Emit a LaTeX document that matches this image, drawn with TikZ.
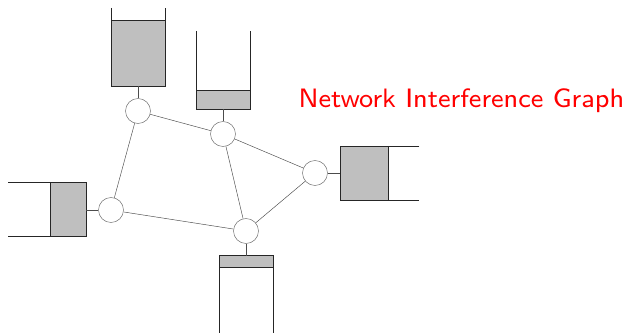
\documentclass[tikz,border=0pt]{standalone}
\usepackage{xcolor}

\tikzset{
    station/.style={circle, draw=black!60, fill=white, minimum size=0.75cm, inner sep=0pt},
    link/.style={draw=black!70},
    wall/.style={draw=black!85, line width=0.6pt},
    buffer/.style={fill=black!25}
}

\begin{document}
\begin{tikzpicture}
    \useasboundingbox (0,0) rectangle (19.02,9.99);

    % Nodes
    \node[station] (A) at (4.14,6.66) {};
    \node[station] (B) at (6.69,5.97) {};
    \node[station] (C) at (3.33,3.69) {};
    \node[station] (D) at (7.38,3.06) {};
    \node[station] (E) at (9.45,4.80) {};

    % Links
    \draw[link] (A) -- (B);
    \draw[link] (A) -- (C);
    \draw[link] (C) -- (D);
    \draw[link] (B) -- (D);
    \draw[link] (B) -- (E);
    \draw[link] (E) -- (D);

    % Queue above A
    \fill[buffer] (3.345,9.39) rectangle (4.965,7.41);
    \draw[wall] (3.345,9.39) -- (4.965,9.39);
    \draw[wall] (3.345,9.75) -- (3.345,7.41) -- (4.965,7.41) -- (4.965,9.75);
    \coordinate (qA) at (4.14,7.41);
    \draw[link] (qA) -- (A);

    % Queue above B
    \fill[buffer] (5.90,7.27) rectangle (7.52,6.71);
    \draw[wall] (5.90,7.27) -- (7.52,7.27);
    \draw[wall] (5.90,9.06) -- (5.90,6.71) -- (7.52,6.71) -- (7.52,9.06);
    \coordinate (qB) at (6.69,6.71);
    \draw[link] (qB) -- (B);

    % Queue left of C
    \fill[buffer] (1.50,4.52) rectangle (2.58,2.89);
    \draw[wall] (1.50,4.52) -- (1.50,2.89);
    \draw[wall] (0.24,4.52) -- (2.58,4.52) -- (2.58,2.89) -- (0.24,2.89);
    \coordinate (qC) at (2.58,3.69);
    \draw[link] (qC) -- (C);

    % Queue below D
    \fill[buffer] (6.58,2.32) rectangle (8.20,1.97);
    \draw[wall] (6.58,1.97) -- (8.20,1.97);
    \draw[wall] (6.58,0) -- (6.58,2.32) -- (8.20,2.32) -- (8.20,0);
    \coordinate (qD) at (7.38,2.32);
    \draw[link] (qD) -- (D);

    % Queue right of E
    \fill[buffer] (10.20,5.61) rectangle (11.66,3.97);
    \draw[wall] (11.66,5.61) -- (11.66,3.97);
    \draw[wall] (12.58,5.61) -- (10.20,5.61) -- (10.20,3.97) -- (12.58,3.97);
    \coordinate (qE) at (10.20,4.80);
    \draw[link] (qE) -- (E);

    % Title
    \node[anchor=base west, inner sep=0pt, text=red, scale=2.84, transform shape,
          font=\sffamily\fontsize{8}{10}\selectfont] (title) at (8.94,6.75) {Network Interference Graph};
\end{tikzpicture}
\end{document}
